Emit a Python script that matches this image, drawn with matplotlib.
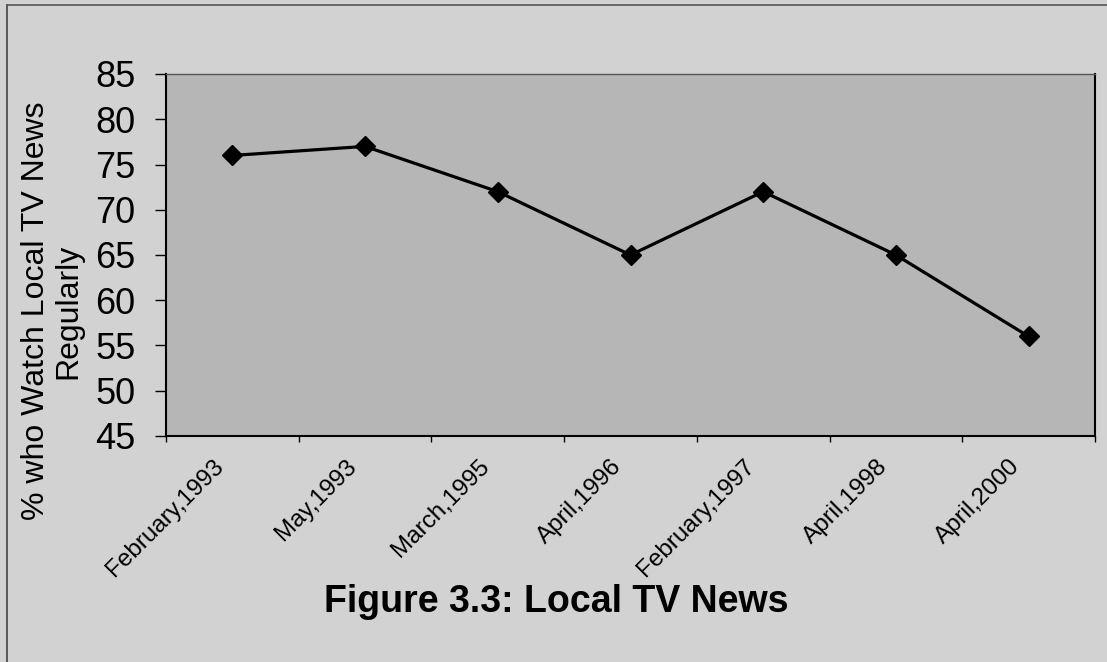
import matplotlib
matplotlib.use("Agg")
import matplotlib.pyplot as plt
import matplotlib.transforms as mtransforms
from matplotlib.lines import Line2D
import numpy as np

categories = ["February,1993", "May,1993", "March,1995", "April,1996",
              "February,1997", "April,1998", "April,2000"]
values = [76, 77, 72, 65, 72, 65, 56]
yticks = [45, 50, 55, 60, 65, 70, 75, 80, 85]

plt.rcParams['font.family'] = ['Liberation Sans', 'DejaVu Sans']

W, H = 1107, 662
fig = plt.figure(figsize=(W / 100, H / 100), dpi=100, facecolor='#d2d2d2')
ax = fig.add_axes([166 / W, 1 - 436 / H, (1095 - 166) / W, (436 - 74) / H])
ax.set_facecolor('#b6b6b6')

x = np.arange(len(categories)) + 0.5
ax.plot(x, values, color='black', lw=2.3, marker='D', markersize=10,
        markerfacecolor='black', markeredgecolor='black', zorder=3)

ax.set_xlim(0, len(categories))
ax.set_ylim(45, 85)
ax.set_yticks(yticks)
ax.set_yticklabels([str(v) for v in yticks], fontsize=26)
ax.tick_params(axis='y', direction='out', length=8, width=1, pad=14)

ax.set_xticks(np.arange(len(categories) + 1))
ax.set_xticklabels([])
ax.tick_params(axis='x', which='major', direction='out', length=4, width=1)
ax.set_xticks(x, minor=True)
ax.set_xticklabels(categories, minor=True, rotation=45, ha='right',
                   va='top', rotation_mode='anchor', fontsize=17.5)
ax.tick_params(axis='x', which='minor', length=0, pad=18)
offset = mtransforms.ScaledTranslation(-20 / 100, 6 / 100, fig.dpi_scale_trans)
for lab in ax.get_xticklabels(minor=True):
    lab.set_transform(lab.get_transform() + offset)

for s in ['left', 'bottom', 'right']:
    ax.spines[s].set_color('black')
    ax.spines[s].set_linewidth(1.5)
ax.spines['top'].set_color('#555555')
ax.spines['top'].set_linewidth(1)

fig.text(52 / W, 1 - 311 / H, "% who Watch Local TV News\nRegularly", rotation=90,
         ha='center', va='center', fontsize=23, multialignment='center',
         linespacing=1.1)

fig.text(556 / W, 1 - 612 / H, "Figure 3.3: Local TV News", ha='center',
         va='baseline', fontsize=27, fontweight='bold')

# chart frame (left and top edges visible in the reference)
fig.add_artist(Line2D([7 / W, 7 / W], [0, 1 - 5 / H], transform=fig.transFigure,
                      color='#444444', lw=1.2))
fig.add_artist(Line2D([7 / W, 1], [1 - 5 / H, 1 - 5 / H], transform=fig.transFigure,
                      color='#555555', lw=1.2))

fig.savefig("out.png", dpi=100, facecolor=fig.get_facecolor())
